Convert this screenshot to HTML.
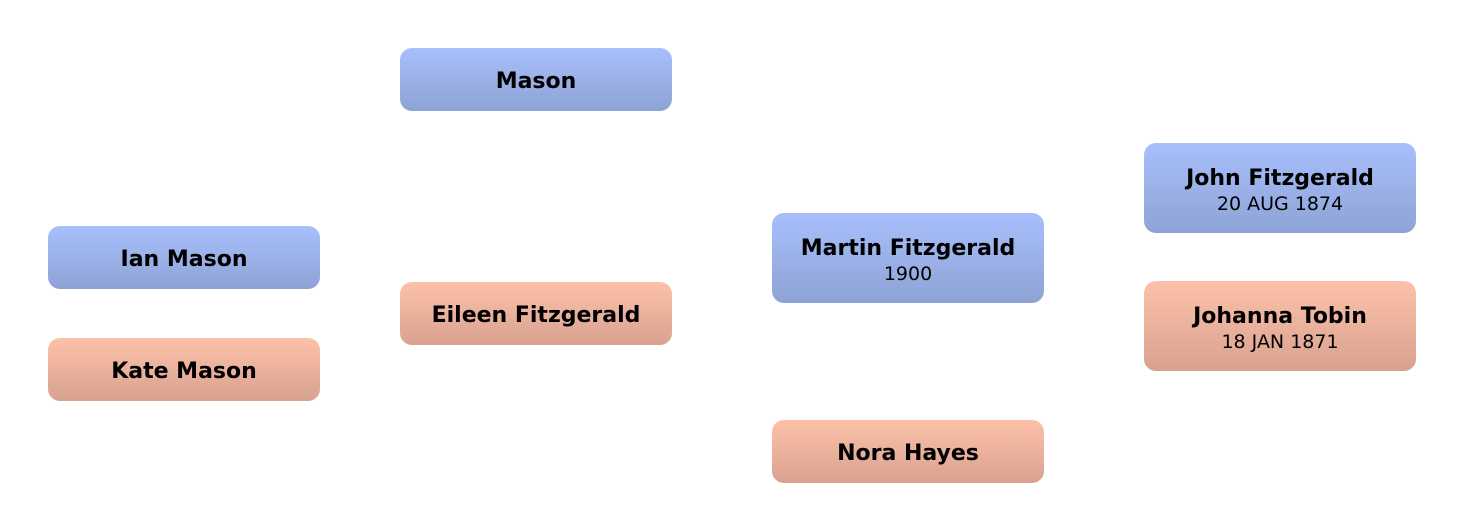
<!DOCTYPE html>
<html><head><style>
body{margin:0;width:1464px;height:532px;background:#fff;position:relative;font-family:"DejaVu Sans","Liberation Sans",sans-serif;overflow:hidden}
.b{position:absolute;width:272px;border-radius:12px;display:flex;flex-direction:column;justify-content:center;align-items:center;color:#000;text-align:center;box-sizing:border-box;padding-top:4px}
.m{background:linear-gradient(#a8bffc,#8ea3d5)}
.f{background:linear-gradient(#fdc1a9,#d8a290)}
.n{font-weight:bold;font-size:22px;line-height:27px}
.d{font-size:19px;line-height:24px}
</style></head><body>
<div class="b m" style="left:400px;top:48px;height:63px"><div class="n">Mason</div></div>
<div class="b m" style="left:48px;top:226px;height:63px"><div class="n">Ian Mason</div></div>
<div class="b f" style="left:48px;top:338px;height:63px"><div class="n">Kate Mason</div></div>
<div class="b f" style="left:400px;top:282px;height:63px"><div class="n">Eileen Fitzgerald</div></div>
<div class="b m" style="left:772px;top:213px;height:90px"><div class="n">Martin Fitzgerald</div><div class="d">1900</div></div>
<div class="b f" style="left:772px;top:420px;height:63px"><div class="n">Nora Hayes</div></div>
<div class="b m" style="left:1144px;top:143px;height:90px"><div class="n">John Fitzgerald</div><div class="d">20 AUG 1874</div></div>
<div class="b f" style="left:1144px;top:281px;height:90px"><div class="n">Johanna Tobin</div><div class="d">18 JAN 1871</div></div>
</body></html>
